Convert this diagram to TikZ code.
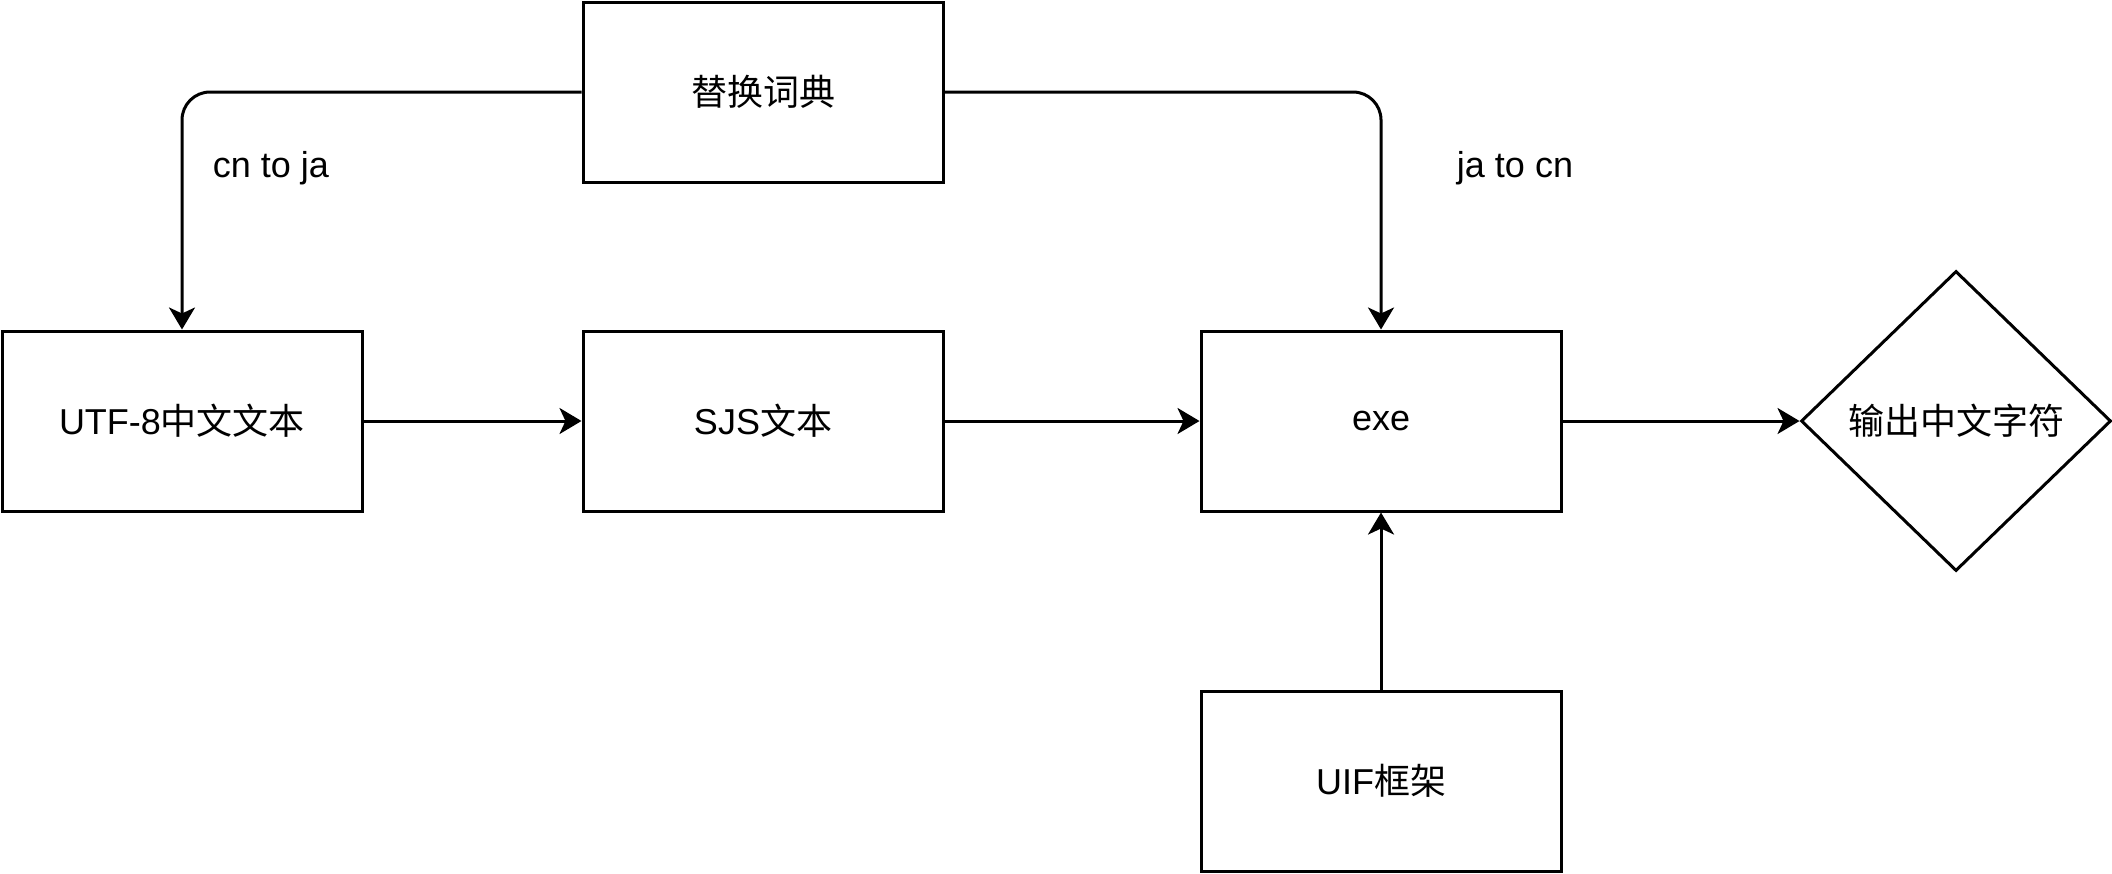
\documentclass[tikz,border=0pt]{standalone}
\usepackage{fontspec}
\setmainfont{Liberation Sans}
\newfontfamily\cjk{Noto Sans CJK SC}
\usetikzlibrary{shapes.geometric,arrows.meta}

\begin{document}
\begin{tikzpicture}[x=0.5pt, y=-0.5pt,
    font=\fontsize{18}{22}\selectfont,
    box/.style ={rectangle, draw, line width=1.5pt, minimum width=180pt, minimum height=90pt, inner sep=0pt},
    result/.style ={diamond, draw, line width=1.5pt, minimum width=155pt, minimum height=150pt, inner sep=0pt},
    flow/.style ={line width=1.5pt, -{Stealth[length=11pt, width=13pt, inset=3pt]}}]
   \useasboundingbox (0,0) rectangle (2112,873);

   \node[box] (dict) at (763,92)  {{\cjk 替换词典}};
   \node[box] (utf)  at (182,421) {UTF-8{\cjk 中文文本}};
   \node[box] (sjs)  at (763,421) {SJS{\cjk 文本}};
   \node[box] (exe)  at (1381,421) {\raisebox{-1.5pt}{exe}};
   \node[box] (uif)  at (1381,781) {UIF{\cjk 框架}};
   \node[result] (out) at (1956,421) {{\cjk 输出中文字符}};

   \node (cnja) at (271,168) {cn to ja};
   \node (jacn) at (1515,168) {ja to cn};

   \draw[flow, rounded corners=14pt] (dict.west) -| (utf.north);
   \draw[flow, rounded corners=14pt] (dict.east) -| (exe.north);

   \draw[flow] (utf) -- (sjs);
   \draw[flow] (sjs) -- (exe);
   \draw[flow] (exe) -- (out);
   \draw[flow] (uif) -- (exe);

\end{tikzpicture}
\end{document}
